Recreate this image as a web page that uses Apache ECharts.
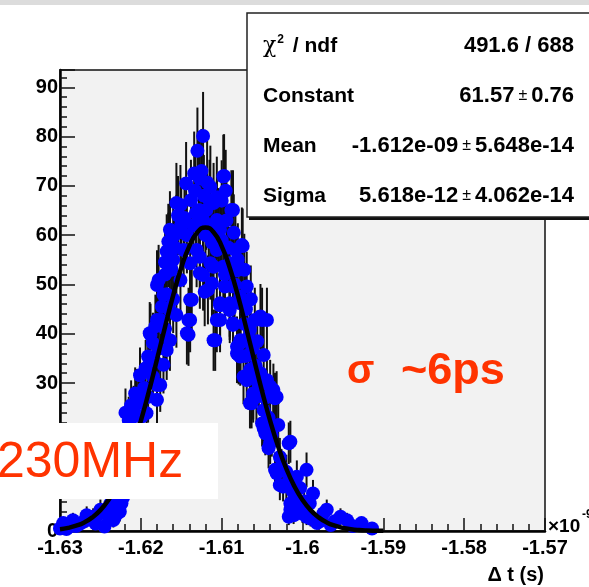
<!DOCTYPE html>
<html><head><meta charset="utf-8">
<script src="https://cdn.jsdelivr.net/npm/echarts@6/dist/echarts.min.js"></script>
<style>html,body{margin:0;padding:0;background:#fff}#c{width:589px;height:587px}</style>
</head><body><div id="c"></div>
<script>
// Histogram bins (x in units of 1e-9 s, y = counts)
const pointX = [
-1.6300,-1.6296,-1.6288,-1.6284,-1.6276,-1.6267,-1.6267,-1.6259,-1.6250,-1.6250,-1.6245,-1.6240,-1.6234,-1.6234,-1.6229,-1.6226,-1.6224,
-1.6215,-1.6209,-1.6209,-1.6193,-1.6199,-1.6207,-1.6205,-1.6191,-1.6180,-1.6201,-1.6185,-1.6176,-1.6180,-1.6172,-1.6191,-1.6168,-1.6185,
-1.6188,-1.6164,-1.6189,-1.6176,-1.6180,-1.6156,-1.6164,-1.6172,-1.6180,-1.6178,-1.6151,-1.6160,-1.6166,-1.6164,-1.6160,-1.6156,-1.6168,
-1.6166,-1.6164,-1.6156,-1.6151,
-1.6147,-1.6143,-1.6141,-1.6141,-1.6139,-1.6137,-1.6139,-1.6139,-1.6138,-1.6131,-1.6130,-1.6128,-1.6128,-1.6127,-1.6127,-1.6127,-1.6123,
-1.6123,-1.6123,-1.6121,-1.6123,-1.6119,-1.6118,-1.6117,-1.6115,-1.6114,-1.6114,-1.6112,-1.6110,-1.6110,-1.6110,-1.6108,-1.6106,-1.6106,
-1.6106,-1.6106,-1.6104,-1.6102,-1.6102,-1.6102,-1.6102,-1.6098,-1.6098,-1.6097,-1.6096,-1.6095,-1.6090,-1.6090,-1.6090,-1.6088,-1.6086,
-1.6086,-1.6086,-1.6086,-1.6083,-1.6081,-1.6081,-1.6079,-1.6077,-1.6077,-1.6077,-1.6077,-1.6075,-1.6074,-1.6069,-1.6069,
-1.6065,-1.6065,-1.6063,-1.6061,-1.6057,-1.6052,-1.6050,-1.6048,-1.6048,-1.6044,-1.6044,-1.6042,-1.6036,-1.6036,-1.6034,-1.6032,-1.6030,
-1.6028,-1.6017,-1.6015,-1.6011,-1.6007,-1.6003,-1.5995,-1.5995,-1.5987,-1.5982,-1.5970,-1.5953,-1.5927,-1.5914,
-1.6034,-1.6024,-1.6003,-1.6015,-1.5991,-1.5974,-1.5945,-1.6017,-1.6046,-1.6040,-1.6015,-1.6050,-1.6061,-1.6040,-1.6032,-1.6059,-1.6073,
-1.6081,-1.6065,-1.6090,-1.6077,-1.6059,
-1.6203,-1.6196,-1.6194,-1.6183,-1.6178,-1.6182,-1.6170,-1.6174,-1.6168,-1.6160,-1.6170,-1.6162,-1.6158,-1.6170,-1.6150,-1.6146,-1.6154,
-1.6143,-1.6135,-1.6133,-1.6125,-1.6120,-1.6116,-1.6112,-1.6108,-1.6100,-1.6094,-1.6092,-1.6100,-1.6096,-1.6085,-1.6080,-1.6072,-1.6084,
-1.6070,-1.6064,-1.6072,-1.6068,-1.6062,-1.6056,-1.6070,-1.6058,-1.6052,-1.6054,-1.6046,-1.6048,-1.6042,-1.6038,-1.6028,-1.6026,-1.6020,
-1.6020,-1.6012,-1.6008,-1.6000,-1.5998,-1.5990,-1.5978,-1.5965,-1.5960,-1.5938,
-1.6292,-1.6280,-1.6272,-1.6262,-1.6256,-1.6242,-1.6238,-1.6231,-1.6222,-1.6219,-1.6212,-1.6198,-1.6134,-1.6132,-1.6122,-1.6144
];
const pointY = [
0.5,1.6,0.9,2.2,1.4,2.2,3.2,2.9,3.6,4.3,0.9,3.0,2.2,4.9,6.3,3.9,5.6,
22.5,23.2,24.5,23.9,23.2,27.9,27.6,27.2,26.6,31.6,31.3,29.6,29.6,33.7,35.4,36.7,38.1,
39.8,38.7,40.1,42.8,42.8,43.8,44.8,47.9,49.9,50.9,50.9,55.0,57.0,58.4,59.7,60.4,56.7,
58.7,61.1,66.5,66.1,
57.0,40.1,42.8,39.8,42.8,46.9,46.9,54.3,67.1,57.0,77.1,72.1,65.1,71.5,55.6,52.3,63.1,
51.9,62.7,48.5,80.1,65.1,70.7,48.9,67.1,54.3,69.8,50.2,53.6,66.5,38.7,38.7,67.7,57.0,
63.1,42.8,61.7,61.1,46.2,45.8,42.8,53.6,71.9,72.0,49.6,69.0,46.2,45.5,54.3,65.1,65.1,
41.8,49.6,42.1,57.0,52.9,36.0,35.7,38.1,38.7,47.5,35.4,58.0,57.8,49.6,30.6,
32.7,25.9,25.9,27.2,27.2,43.5,42.8,35.7,20.8,42.8,30.6,16.8,28.6,21.2,26.9,11.7,21.5,
9.3,17.8,5.6,3.2,11.0,4.9,12.4,2.9,7.6,1.6,4.3,2.9,1.6,0.5,
12.4,9.0,8.7,4.3,5.6,3.6,2.2,2.9,19.8,17.8,18.1,21.8,27.9,29.3,27.2,31.3,31.3,
37.4,40.8,44.8,46.2,42.8,
26.0,29.0,33.0,34.5,37.0,41.5,41.0,45.5,48.0,47.0,52.0,53.0,57.5,54.5,62.0,63.5,64.0,
60.0,62.0,69.0,73.0,60.0,62.0,58.5,60.0,59.0,63.0,57.5,67.0,52.0,60.5,55.0,53.0,50.0,
45.0,47.0,42.0,39.0,37.0,38.5,35.5,33.5,32.0,29.5,27.0,24.5,23.0,19.5,15.0,13.0,12.0,
9.5,8.0,6.5,3.5,6.0,2.5,2.0,1.2,2.0,1.0,
0.4,1.0,1.8,2.6,1.5,4.2,5.5,3.2,6.8,24.0,25.5,27.0,72.5,64.5,68.0,70.5
];
// Gaussian fit curve, sampled from the drawn line
const curveX = [-1.630,-1.629,-1.628,-1.627,-1.626,-1.625,-1.624,-1.623,-1.622,-1.621,-1.620,-1.619,-1.618,-1.617,-1.616,-1.615,-1.614,-1.613,-1.612,-1.611,-1.610,-1.609,-1.608,-1.607,-1.606,-1.605,-1.604,-1.603,-1.602,-1.601,-1.600,-1.599,-1.598,-1.597,-1.596,-1.595,-1.594,-1.593,-1.592,-1.591,-1.590];
const curveY = [0.36,0.63,1.07,1.74,2.76,4.23,6.29,9.05,12.63,17.06,22.34,28.33,34.81,41.43,47.78,53.39,57.79,60.60,61.57,60.60,57.79,53.39,47.78,41.43,34.81,28.33,22.34,17.06,12.63,9.05,6.29,4.23,2.76,1.74,1.07,0.63,0.36,0.20,0.11,0.06,0.03];
const xTicks = [-1.63,-1.62,-1.61,-1.6,-1.59,-1.58,-1.57];
const yTicks = [0,10,20,30,40,50,60,70,80,90];
const statsLabels = ['{chi|χ}{sup|2}{b| / ndf}', '{b|Constant}', '{b|Mean}', '{b|Sigma}'];
const statsValues = [['491.6 / 688'], ['61.57', '0.76'], ['-1.612e-09', '5.648e-14'], ['5.618e-12', '4.062e-14']];

const FONT = "'Liberation Sans', Arial, sans-serif";
const pts = pointX.map((x, i) => [x, pointY[i], Math.sqrt(pointY[i])]);
const curve = curveX.map((x, i) => [x, curveY[i]]);

const chart = echarts.init(document.getElementById('c'), null, {renderer: 'canvas'});
const rich = {
  b: {fontFamily: FONT, fontWeight: 'bold', fontSize: 21, fill: '#000'},
  v: {fontFamily: FONT, fontWeight: 'bold', fontSize: 22, fill: '#000'},
  chi: {fontFamily: "'DejaVu Serif', serif", fontSize: 22, fill: '#000'},
  sup: {fontFamily: FONT, fontWeight: 'bold', fontSize: 12, fill: '#000', verticalAlign: 'top', padding: [0, 3, 12, 1]},
  pm: {fontFamily: FONT, fontSize: 16, fill: '#000', padding: [0, 4, 0, 4]}
};
const graphics = [
  {type: 'rect', z: 100, shape: {x: 0, y: 0, width: 589, height: 5}, style: {fill: '#dcdcdc'}},
  {type: 'rect', z: 100, shape: {x: 249, y: 15, width: 345, height: 205}, style: {fill: '#111'}},
  {type: 'rect', z: 101, shape: {x: 247, y: 13, width: 345, height: 204}, style: {fill: '#fff', stroke: '#222', lineWidth: 1.5}}
];
const rowY = [46, 96, 146, 196];
statsLabels.forEach((lab, i) => {
  graphics.push({type: 'text', z: 102, x: 263, y: rowY[i], style: {text: lab, rich: rich, align: 'left', verticalAlign: 'middle'}});
  const v = statsValues[i];
  const t = v.length === 2 ? '{v|' + v[0] + '}{pm|±}{v|' + v[1] + '}' : '{v|' + v[0] + '}';
  graphics.push({type: 'text', z: 102, x: 574, y: rowY[i], style: {text: t, rich: rich, align: 'right', verticalAlign: 'middle'}});
});
graphics.push(
  {type: 'rect', z: 100, shape: {x: 0, y: 423, width: 218, height: 76}, style: {fill: '#fff'}},
  {type: 'text', z: 101, x: -3, y: 463, style: {text: '230MHz', fill: '#ff3300', font: '50px ' + FONT, verticalAlign: 'middle'}},
  {type: 'text', z: 101, x: 347, y: 372, style: {text: 'σ', fill: '#ff3300', font: 'bold 40px ' + FONT, verticalAlign: 'middle'}},
  {type: 'text', z: 101, x: 401, y: 372, style: {text: '~6ps', fill: '#ff3300', font: 'bold 45px ' + FONT, verticalAlign: 'middle'}},
  {type: 'text', z: 101, x: 548, y: 527, style: {text: '×10', fill: '#000', font: 'bold 19px ' + FONT, verticalAlign: 'middle'}},
  {type: 'text', z: 101, x: 582, y: 515, style: {text: '-9', fill: '#000', font: 'bold 12px ' + FONT, verticalAlign: 'middle'}},
  {type: 'text', z: 101, x: 544, y: 575, style: {text: 'Δ t (s)', fill: '#000', font: 'bold 20px ' + FONT, align: 'right', verticalAlign: 'middle'}}
);

chart.setOption({
  animation: false,
  backgroundColor: '#fff',
  grid: {left: 60, right: 44, top: 70, bottom: 56, show: true, backgroundColor: '#f2f2f2', borderColor: '#111', borderWidth: 1.5},
  xAxis: {
    type: 'value', min: xTicks[0], max: xTicks[xTicks.length - 1], interval: 0.01,
    axisLine: {onZero: false, lineStyle: {color: '#000', width: 2.5}},
    axisTick: {inside: true, length: 13, lineStyle: {color: '#111', width: 1.5}},
    minorTick: {show: true, splitNumber: 5, length: 7, lineStyle: {color: '#111', width: 1.5}},
    splitLine: {show: false},
    axisLabel: {margin: 7, color: '#000', fontFamily: FONT, fontWeight: 'bold', fontSize: 20,
      formatter: v => String(parseFloat(v.toFixed(2)))}
  },
  yAxis: {
    type: 'value', min: yTicks[0], max: 93.5, interval: 10,
    axisLine: {onZero: false, lineStyle: {color: '#000', width: 2.5}},
    axisTick: {inside: true, length: 15, lineStyle: {color: '#111', width: 1.5}},
    minorTick: {show: true, splitNumber: 5, length: 7, lineStyle: {color: '#111', width: 1.5}},
    splitLine: {show: false},
    axisLabel: {margin: 2, color: '#000', fontFamily: FONT, fontWeight: 'bold', fontSize: 20,
      formatter: v => (yTicks.indexOf(v) >= 0 ? String(v) : '')}
  },
  graphic: graphics,
  series: [
    {type: 'custom', z: 2, clip: true, data: pts, silent: true,
      renderItem: (params, api) => {
        const x = api.value(0), y = api.value(1), e = api.value(2);
        const p1 = api.coord([x, Math.max(0, y - e)]), p2 = api.coord([x, y + e]);
        return {type: 'line', shape: {x1: p1[0], y1: p1[1], x2: p2[0], y2: p2[1]}, style: {stroke: '#111', lineWidth: 2}};
      }},
    {type: 'scatter', z: 3, data: pts.map(p => [p[0], p[1]]), symbol: 'circle', symbolSize: 14,
      itemStyle: {color: '#0000ff', opacity: 1}, silent: true, clip: true},
    {type: 'line', z: 4, data: curve, smooth: true, showSymbol: false, silent: true,
      lineStyle: {color: '#000', width: 4.5}}
  ]
});
</script></body></html>
